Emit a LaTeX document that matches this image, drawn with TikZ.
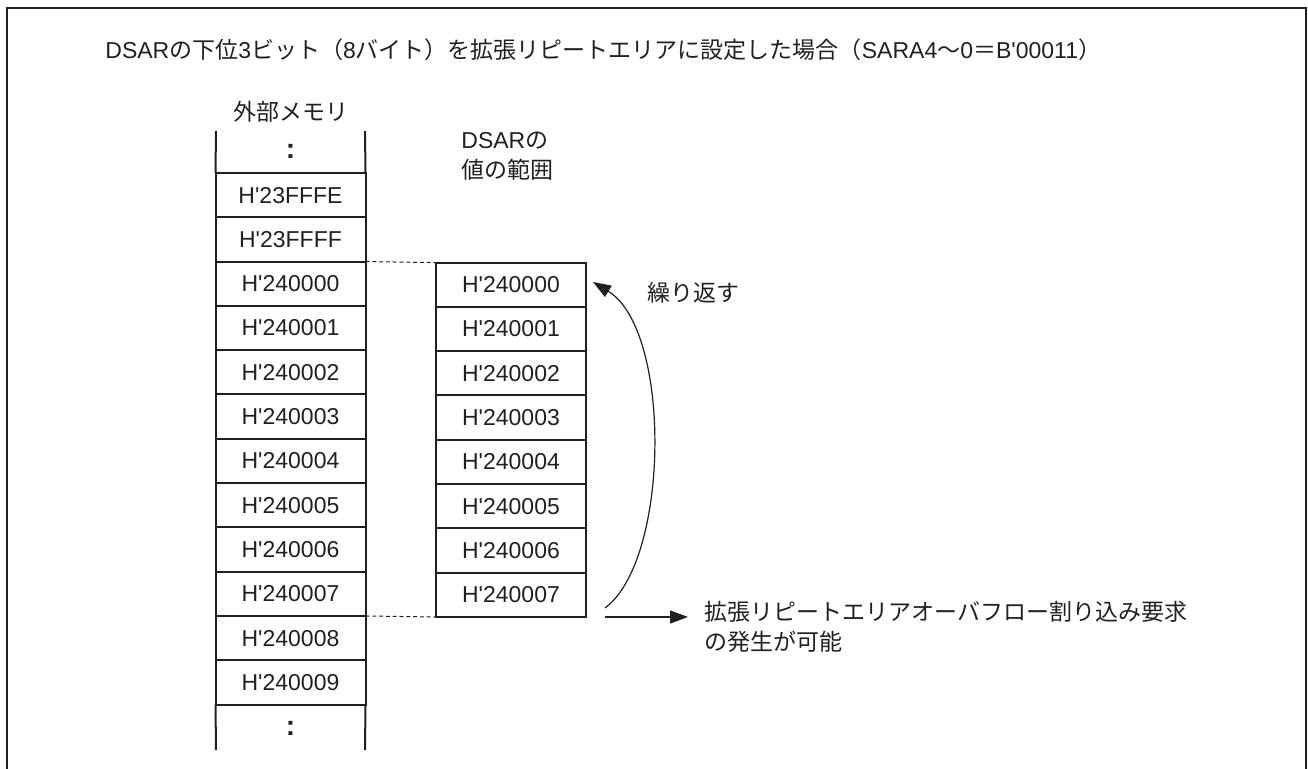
\documentclass[tikz,border=0pt]{standalone}
\usepackage{fontspec}
\setmainfont{Liberation Sans}
\newfontfamily\jpfont{Noto Sans CJK JP}
\newcommand{\jp}[1]{{\jpfont #1}}
\newcommand{\hq}{H\textquotesingle}
\usetikzlibrary{arrows.meta,positioning}
\definecolor{ink}{HTML}{231F20}

\begin{document}
\begin{tikzpicture}[
  x=0.5pt,y=-0.5pt,
  cell/.style={draw=ink,line width=1pt,minimum width=75pt,minimum height=22.15pt,inner sep=0pt,outer sep=0pt,text=ink,font=\fontsize{11.5}{13}\selectfont},
  lbl/.style={inner sep=0pt,text=ink,align=left,font=\fontsize{11.5}{15}\selectfont},
  dots/.style={inner sep=0pt,text=ink,font=\fontsize{14}{14}\selectfont\bfseries},
  arr/.style={-{Triangle[length=9pt,width=6.5pt]},draw=ink,line width=0.6pt},
  guide/.style={draw=ink,line width=0.5pt,dash pattern=on 2pt off 1.4pt}
]
\useasboundingbox (0,0) rectangle (1308,769);
\draw[ink,line width=1.3pt] (7,769) -- (7,8) -- (1306,8) -- (1306,769);

\node[lbl,anchor=west] (title) at (105,50) {DSAR\jp{の下位}3\jp{ビット（}8\jp{バイト）を拡張リピートエリアに設定した場合（}SARA4\jp{～}0\jp{＝}B\textquotesingle00011\jp{）}};

% external memory column
\node[lbl] (memlbl) at (290.5,112) {\jp{外部メモリ}};
\foreach \a [count=\i] in {23FFFE,23FFFF,240000,240001,240002,240003,240004,240005,240006,240007,240008,240009}
  \node[cell] (mem\i) at (290.5,{173+44.3*(\i-0.5)}) {\hq\a};
\node[dots] (memtop) at (290.5,151) {:};
\node[dots] (memend) at (290.5,728) {:};
\draw[ink,line width=1pt] (216,131) -- (mem1.north west);
\draw[ink,line width=1pt] (365,131) -- (mem1.north east);
\draw[ink,line width=1pt] (mem12.south west) -- (216,750);
\draw[ink,line width=1pt] (mem12.south east) -- (365,750);

% DSAR range
\node[lbl,anchor=west] (dsarlbl) at (461,156) {DSAR\jp{の}\\\jp{値の範囲}};
\foreach \i in {0,...,7}
  \node[cell] (dsar\i) at (511,{262.6+44.3*(\i+0.5)}) {\hq24000\i};

\draw[guide] (mem3.north east) -- (dsar0.north west);
\draw[guide] (mem10.south east) -- (dsar7.south west);

% repeat and overflow
\coordinate (rptlo) at (605,608);
\coordinate (rpthi) at (593,282);
\draw[arr] (rptlo) .. controls (670,560) and (672,330) .. (rpthi);
\node[lbl,anchor=west] (rpt) at (647,293) {\jp{繰り返す}};

\coordinate (ovfst) at (605,617);
\coordinate (ovftip) at (688,617);
\draw[arr] (ovfst) -- (ovftip);
\node[lbl,anchor=north west] (ovf) at (704,601) {\jp{拡張リピートエリアオーバフロー割り込み要求}\\\jp{の発生が可能}};
\end{tikzpicture}
\end{document}
